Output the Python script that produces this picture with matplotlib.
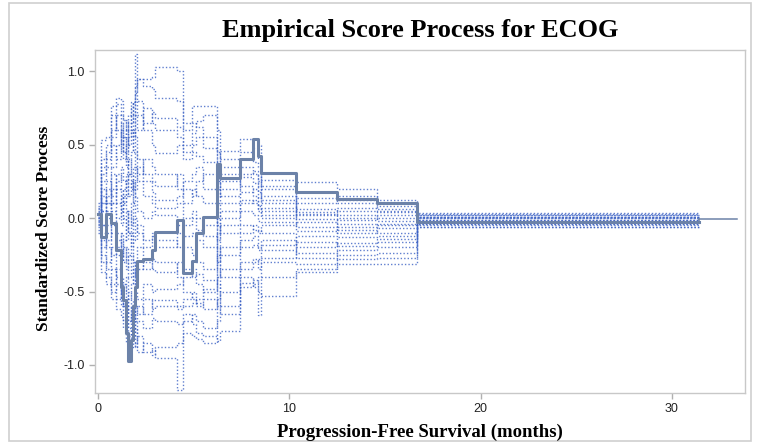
import matplotlib
matplotlib.use("Agg")
import matplotlib.pyplot as plt
from matplotlib.patches import Rectangle

# jump times (months) shared by observed and simulated paths
times = [0, 0.14, 0.42, 0.66, 0.94, 1.19, 1.32, 1.46, 1.59, 1.71, 1.81, 1.93, 2.02, 2.37,
         2.81, 2.98, 4.13, 4.44, 4.91, 5.12, 5.49, 6.22, 6.38, 7.42, 8.10, 8.36, 8.52,
         10.35, 12.5, 14.6, 16.7, 31.4, 33.4]

# observed standardized score process, value held from each jump time
observed = [0.03, -0.13, 0.03, -0.035, -0.22, -0.47, -0.56, -0.78, -0.97, -0.83, -0.60,
            -0.47, -0.29, -0.28, -0.22, -0.095, -0.01, -0.375, -0.29, -0.10, 0.01, 0.37,
            0.27, 0.40, 0.54, 0.42, 0.31, 0.18, 0.13, 0.10, -0.03, -0.007]

# simulated paths (values on times[0:31], last one held until 31.4)
sim01 = [0.05, 0.30, 0.45, 0.60, 0.70, 0.55, 0.40, 0.50, 0.65, 0.79, 0.70, 1.12, 0.80, 0.60, 0.50,
         0.44, 0.50, 0.40, 0.45, 0.42, 0.38, 0.30, 0.46, 0.54, 0.54, 0.50, 0.26, 0.245, 0.20, 0.12, 0.035]
sim02 = [0.02, 0.20, 0.10, 0.35, 0.50, 0.65, 0.55, 0.40, 0.30, 0.45, 0.60, 0.55, 0.40, 0.30, 0.25,
         0.22, 0.30, 0.20, 0.15, 0.25, 0.30, 0.20, 0.35, 0.45, 0.48, 0.40, 0.20, 0.14, 0.10, 0.08, 0.02]
sim03 = [0.10, 0.53, 0.55, 0.76, 0.82, 0.80, 0.67, 0.60, 0.70, 0.75, 0.79, 0.90, 0.95, 0.95, 0.96,
         1.03, 1.00, 0.65, 0.76, 0.76, 0.76, 0.60, 0.40, 0.30, 0.32, 0.25, 0.15, 0.06, 0.05, 0.04, 0.01]
sim04 = [0.00, 0.10, 0.25, 0.15, 0.30, 0.20, 0.10, 0.25, 0.40, 0.30, 0.20, 0.35, 0.25, 0.15, 0.10,
         0.07, 0.10, 0.00, 0.05, 0.00, -0.05, 0.10, 0.20, 0.35, 0.30, 0.22, 0.10, 0.03, 0.02, 0.00, 0.00]
sim05 = [-0.03, -0.10, 0.05, 0.20, 0.10, -0.05, 0.15, 0.05, -0.10, 0.10, 0.25, 0.15, 0.05, 0.00, 0.05,
         0.02, -0.05, -0.12, -0.10, -0.15, -0.20, 0.00, 0.10, 0.18, 0.20, 0.14, 0.07, -0.005, 0.00, -0.02, -0.01]
sim06 = [-0.05, -0.20, -0.10, -0.25, -0.15, -0.30, -0.20, -0.35, -0.25, -0.10, -0.30, -0.40, -0.35, -0.30, -0.35,
         -0.37, -0.30, -0.20, -0.25, -0.30, -0.35, -0.10, 0.05, 0.12, 0.10, 0.06, 0.02, -0.06, -0.04, -0.05, -0.02]
sim07 = [0.03, 0.05, -0.15, -0.05, -0.25, -0.40, -0.50, -0.40, -0.55, -0.45, -0.35, -0.50, -0.55, -0.45, -0.50,
         -0.48, -0.45, -0.40, -0.35, -0.45, -0.50, -0.25, -0.05, 0.05, 0.02, -0.02, -0.03, -0.09, -0.08, -0.10, -0.03]
sim08 = [-0.08, -0.25, -0.35, -0.45, -0.55, -0.45, -0.60, -0.70, -0.80, -0.65, -0.55, -0.70, -0.60, -0.65, -0.56,
         -0.56, -0.60, -0.55, -0.50, -0.58, -0.62, -0.40, -0.20, -0.10, -0.05, -0.08, -0.10, -0.20, -0.13, -0.12, -0.04]
sim09 = [-0.10, -0.37, -0.45, -0.55, -0.62, -0.67, -0.75, -0.85, -0.95, -0.88, -0.80, -0.75, -0.91, -0.85, -0.93,
         -0.88, -0.85, -0.70, -0.65, -0.70, -0.75, -0.55, -0.35, -0.20, -0.18, -0.22, -0.15, -0.24, -0.17, -0.16, -0.05]
sim10 = [0.06, -0.05, -0.20, -0.35, -0.45, -0.55, -0.70, -0.60, -0.75, -0.88, -0.88, -0.85, -0.80, -0.91, -0.90,
         -0.95, -1.17, -0.78, -0.80, -0.82, -0.85, -0.70, -0.50, -0.30, -0.28, -0.35, -0.22, -0.27, -0.22, -0.20, -0.06]
sim11 = [-0.02, -0.15, -0.30, -0.20, -0.40, -0.60, -0.45, -0.65, -0.50, -0.70, -0.60, -0.88, -0.70, -0.75, -0.68,
         -0.70, -0.72, -0.65, -0.72, -0.78, -0.80, -0.84, -0.77, -0.47, -0.45, -0.40, -0.30, -0.31, -0.25, -0.24, -0.02]
sim12 = [0.04, 0.15, 0.00, -0.10, -0.20, -0.10, -0.30, -0.20, -0.40, -0.25, -0.45, -0.30, -0.20, -0.35, -0.28,
         -0.30, -0.40, -0.50, -0.55, -0.60, -0.55, -0.60, -0.60, -0.40, -0.47, -0.66, -0.40, -0.37, -0.31, -0.31, -0.06]
sim13 = [-0.06, -0.05, 0.10, 0.05, -0.10, -0.25, -0.15, 0.05, -0.10, -0.20, 0.00, -0.15, -0.05, -0.20, -0.12,
         -0.15, -0.20, -0.35, -0.40, -0.38, -0.42, -0.45, -0.65, -0.44, -0.42, -0.50, -0.53, -0.35, -0.28, -0.27, -0.04]
sim14 = [0.08, 0.40, 0.50, 0.70, 0.60, 0.45, 0.55, 0.67, 0.50, 0.65, 0.79, 0.85, 0.95, 0.90, 0.88,
         0.82, 0.80, 0.60, 0.65, 0.62, 0.55, 0.45, 0.30, 0.40, 0.38, 0.35, 0.22, 0.10, 0.15, 0.10, 0.03]
sim15 = [0.01, 0.25, 0.35, 0.50, 0.40, 0.60, 0.45, 0.35, 0.55, 0.60, 0.45, 0.70, 0.60, 0.75, 0.65,
         0.60, 0.55, 0.45, 0.50, 0.55, 0.48, 0.15, 0.25, 0.22, 0.15, 0.08, 0.05, 0.02, 0.07, 0.06, 0.02]
sim16 = [-0.01, 0.10, 0.20, 0.10, 0.25, 0.35, 0.25, 0.15, 0.30, 0.20, 0.35, 0.45, 0.30, 0.40, 0.35,
         0.30, 0.20, 0.10, 0.20, 0.15, 0.10, -0.05, -0.10, -0.05, -0.08, -0.10, -0.05, -0.03, -0.01, 0.02, 0.01]
sim17 = [0.02, -0.10, -0.05, 0.10, 0.00, 0.15, 0.00, -0.15, 0.05, -0.05, 0.10, 0.00, -0.10, -0.15, -0.10,
         -0.20, -0.10, -0.05, 0.00, -0.08, -0.12, -0.30, -0.25, -0.15, -0.12, -0.20, -0.18, -0.12, -0.06, -0.07, -0.01]
sim18 = [-0.04, 0.35, 0.40, 0.55, 0.78, 0.70, 0.60, 0.45, 0.60, 0.70, 0.55, 0.80, 0.70, 0.65, 0.72,
         0.68, 0.62, 0.50, 0.58, 0.66, 0.70, 0.25, 0.15, 0.28, 0.24, 0.18, 0.12, 0.04, -0.10, -0.04, 0.00]
sim19 = [0.00, -0.30, -0.40, -0.50, -0.35, -0.50, -0.60, -0.55, -0.70, -0.60, -0.75, -0.60, -0.65, -0.55, -0.62,
         -0.60, -0.62, -0.60, -0.58, -0.55, -0.48, -0.20, -0.40, -0.35, -0.30, -0.28, -0.27, -0.16, -0.19, -0.14, -0.03]
sim20 = [0.07, 0.05, 0.15, 0.30, 0.20, 0.05, 0.20, 0.30, 0.15, 0.25, 0.10, 0.20, 0.35, 0.25, 0.18,
         0.12, 0.15, 0.25, 0.30, 0.35, 0.20, -0.15, 0.00, 0.10, 0.12, 0.05, 0.00, 0.18, 0.12, 0.05, 0.01]

sims = [sim01, sim02, sim03, sim04, sim05, sim06, sim07, sim08, sim09, sim10,
        sim11, sim12, sim13, sim14, sim15, sim16, sim17, sim18, sim19, sim20]

xticks = [0, 10, 20, 30]
yticks = [-1.0, -0.5, 0.0, 0.5, 1.0]

fig = plt.figure(figsize=(7.6, 4.48), dpi=100)
ax = fig.add_axes([0.125, 0.123, 0.855, 0.765])

sim_x = times[:31] + [times[31]]
for s in sims:
    ax.step(sim_x, s + [s[-1]], where='post', color='#3a60c4', lw=1.0,
            ls=(0, (1, 1.5)), alpha=0.8, zorder=2)

# thick observed path up to 31.4, thin tail afterwards
ax.step(times[:32], observed[:31] + [observed[30]], where='post',
        color='#6c82a8', lw=2.2, zorder=3)
ax.plot([times[31], times[32]], [observed[31], observed[31]], color='#6c82a8', lw=1.1, zorder=3)
ax.plot([times[31], times[31]], [observed[30], observed[31]], color='#6c82a8', lw=1.1, zorder=3)

ax.set_xlim(-0.16, 33.82)
ax.set_ylim(-1.19, 1.143)
ax.set_xticks(xticks)
ax.set_yticks(yticks)
ax.set_xticklabels([str(v) for v in xticks])
ax.set_yticklabels(['%.1f' % v for v in yticks])

for side in ['left', 'bottom', 'right', 'top']:
    ax.spines[side].set_color('#c8c8c8')
    ax.spines[side].set_linewidth(1.0)
ax.tick_params(direction='out', length=4, width=1, color='#b0b0b0',
               labelsize=9, labelcolor='#222222')
for lab in ax.get_xticklabels() + ax.get_yticklabels():
    lab.set_family(['Liberation Sans', 'DejaVu Sans'])

fig.text(0.553, 0.932, 'Empirical Score Process for ECOG', ha='center', va='center',
         family=['Liberation Serif', 'DejaVu Serif'], weight='bold', fontsize=19)
fig.text(0.553, 0.036, 'Progression-Free Survival (months)', ha='center', va='center',
         family=['Liberation Serif', 'DejaVu Serif'], weight='bold', fontsize=13.5)
fig.text(0.058, 0.49, 'Standardized Score Process', ha='center', va='center', rotation=90,
         family=['Liberation Serif', 'DejaVu Serif'], weight='bold', fontsize=12.5)

# light frame around the whole graphic
fig.patches.append(Rectangle((0.012, 0.016), 0.976, 0.978, transform=fig.transFigure,
                             fill=False, edgecolor='#cfcfcf', lw=1.2))

fig.savefig('out.png', dpi=100)
